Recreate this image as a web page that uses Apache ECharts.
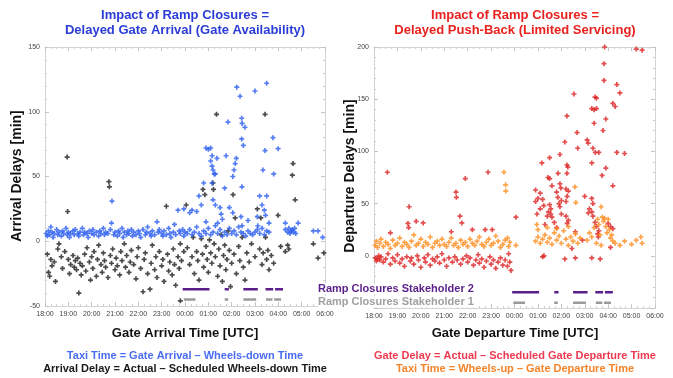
<!DOCTYPE html>
<html lang="en">
<head>
    <meta charset="UTF-8">
    <title>Impact of Ramp Closures</title>
    <script src="https://cdn.jsdelivr.net/npm/echarts@6/dist/echarts.min.js"></script>
    <style>
        body { margin: 0; background: #fff; }
        #chart { width: 673px; height: 378px; }
    </style>
</head>
<body>
    <div id="chart"></div>
    <script>
        // time is in hours from 18:00 UTC (24 = 00:00, 30 = 06:00), values in minutes
        const arrivalDelay = [
            [18.1,-10],[18.15,-24],[18.2,-27],[18.25,-14],[18.3,-19],[18.4,-16],[18.45,-31],[18.55,-6],[18.6,-2],[18.7,-12],
            [18.75,-21],[18.85,-8],[18.95,65],[18.97,23],[19.0,-14],[19.05,-25],[19.1,-18],[19.2,-11],[19.25,-20],[19.3,-15],
            [19.35,-22],[19.4,-13],[19.45,-40],[19.5,-17],[19.55,-26],[19.6,-19],[19.7,-10],[19.75,-23],[19.8,-5],[19.9,-16],
            [19.95,-30],[20.0,-12],[20.05,-21],[20.1,-8],[20.2,-27],[20.25,-14],[20.3,-3],[20.4,-18],[20.45,-24],[20.5,-9],
            [20.55,-15],[20.6,-20],[20.7,-28],[20.74,46],[20.76,42],[20.8,-11],[20.85,-17],[20.9,-6],[21.0,-22],[21.05,-13],
            [21.1,-19],[21.2,-26],[21.25,-8],[21.3,-15],[21.4,-2],[21.45,-20],[21.5,-11],[21.6,-24],[21.65,-16],[21.7,-7],
            [21.8,-18],[21.9,-29],[21.95,-12],[22.0,-5],[22.1,-21],[22.2,-39],[22.25,-14],[22.3,-9],[22.4,-25],[22.5,-37],
            [22.55,-17],[22.6,-3],[22.7,-22],[22.75,-12],[22.8,-28],[22.9,-8],[23.0,-19],[23.05,-14],[23.1,-31],[23.2,27],
            [23.25,-10],[23.3,-23],[23.35,-16],[23.45,-26],[23.5,-6],[23.55,-18],[23.6,-34],[23.7,-12],[23.75,-21],[23.8,-2],
            [23.8,-46],[23.85,-15],[23.95,-8],[24.05,28],
            [24.1,-5],[24.2,-18],[24.3,-12],[24.35,3],[24.4,-25],[24.5,-8],[24.55,-15],[24.6,-30],[24.7,2],[24.77,40],
            [24.75,-10],[24.8,-20],[24.85,36],[24.9,-4],[24.95,-14],[25.0,-24],[25.05,1],[25.1,-9],[25.15,-17],[25.2,45],
            [25.22,40],[25.25,-2],[25.3,-12],[25.35,98],[25.4,-27],[25.45,-6],[25.5,-19],[25.55,5],[25.6,-31],[25.65,-11],
            [25.7,-3],[25.75,-22],[25.8,-14],[25.85,8],[25.9,-7],[25.95,-35],[26.0,-17],[26.06,36],[26.1,-10],[26.15,18],
            [26.2,-25],[26.3,-4],[26.35,-15],[26.45,3],[26.5,-20],[26.57,-30],[26.65,-9],[26.75,-16],[26.85,-2],[27.0,-12],
            [27.1,25],[27.2,-6],[27.25,18],[27.3,-18],[27.35,-9],[27.43,98],[27.45,3],[27.5,-14],[27.55,-7],[27.6,-22],
            [27.7,-11],[27.8,-17],[27.99,20],[28.1,-4],[28.3,-8],[28.4,-3],[28.45,-6],[28.6,51],[28.63,60],[28.72,32],
            [29.5,-2],[29.7,-13],[29.95,-9]
        ];
        const arrivalTaxi = [
            [18.05,6],[18.1,4],[18.15,8],[18.2,5],[18.25,11],[18.3,7],[18.35,3],[18.4,6],[18.5,9],[18.55,5],
            [18.6,7],[18.7,4],[18.75,8],[18.8,6],[18.9,10],[18.95,5],[19.0,7],[19.05,3],[19.1,6],[19.2,8],
            [19.25,5],[19.3,9],[19.4,6],[19.45,4],[19.5,7],[19.6,10],[19.65,5],[19.7,7],[19.8,6],[19.85,3],
            [19.9,8],[20.0,6],[20.05,9],[20.1,5],[20.2,7],[20.3,4],[20.35,8],[20.4,6],[20.5,10],[20.55,5],
            [20.6,7],[20.7,6],[20.8,9],[20.85,14],[20.87,31],[20.95,5],[21.0,7],[21.1,4],[21.15,8],[21.2,6],
            [21.3,10],[21.35,3],[21.4,7],[21.5,5],[21.55,8],[21.6,6],[21.7,9],[21.75,4],[21.8,7],[21.9,5],
            [22.0,8],[22.05,6],[22.1,3],[22.2,9],[22.3,5],[22.35,7],[22.4,11],[22.5,6],[22.55,4],[22.6,8],
            [22.7,5],[22.8,15],[22.85,7],[22.9,9],[23.0,6],[23.05,4],[23.1,8],[23.2,5],[23.3,10],[23.35,6],
            [23.4,3],[23.5,7],[23.55,13],[23.6,5],[23.7,24],[23.75,8],[23.8,6],[23.9,9],[23.95,4],[24.0,7],
            [24.2,22],
            [24.1,6],[24.2,9],[24.3,5],[24.4,7],[24.5,11],[24.6,6],[24.7,4],[24.8,8],[24.9,6],[25.0,10],
            [25.1,5],[25.2,7],[25.3,12],[25.4,6],[25.5,9],[25.6,4],[25.7,7],[25.8,5],[25.9,10],[26.0,6],
            [26.1,8],[26.2,5],[26.3,11],[26.4,7],[26.5,6],[26.6,4],[26.7,8],[26.8,6],[26.9,5],[27.0,7],
            [27.1,9],[27.2,6],[27.3,10],[27.4,5],[27.5,8],[27.6,7],
            [24.6,35],[24.8,45],[24.9,72],[25.0,71],[25.1,72],[25.16,66],[25.1,62],[25.16,58],[25.2,55],[25.25,52],
            [25.3,52],[25.37,64],[25.16,45],[25.2,32],[25.5,26],[25.55,21],[25.7,41],[25.76,66],[25.84,92],[26.05,50],
            [26.1,55],[26.15,60],[26.2,64],[26.22,119],[26.36,112],[26.43,95],[26.45,91],[26.5,74],[26.44,42],[26.43,79],
            [26.57,88],[26.4,19],[26.45,12],[27.0,116],[27.1,19],[27.12,12],[27.2,35],[27.34,55],[27.43,70],[27.5,122],
            [27.5,35],[27.3,28],[27.4,24],[27.45,20],[27.77,80],[27.8,52],[27.99,71.5],[24.3,24],[24.5,23],[23.95,25],
            [24.7,28],[25.3,28],[25.9,26],[26.05,22],[25.6,17],[24.9,15],[25.4,14],[26.7,16],[27.6,14],
            [28.3,14],[28.85,14],[28.3,9],[28.4,7],[28.45,10],[28.5,6],[28.55,8],[28.6,9],[28.65,7],[28.7,10],
            [28.75,6],[29.5,8],[29.7,8],[29.9,3]
        ];
        const gateDelay = [
            [18.05,-2],[18.1,-5],[18.15,-3],[18.2,0],[18.25,-4],[18.3,-1],[18.4,-6],[18.5,-3],[18.57,80],[18.6,2],
            [18.7,22],[18.7,-8],[18.8,-2],[18.9,-5],[19.0,1],[19.1,-7],[19.2,-3],[19.3,-10],[19.4,-1],[19.45,31],
            [19.48,27],[19.5,47],[19.55,-5],[19.6,-2],[19.7,-8],[19.8,33],[19.85,0],[19.9,-4],[20.0,-11],[20.1,31.5],
            [20.15,-2],[20.2,-6],[20.3,1],[20.4,-9],[20.5,-3],[20.6,-5],[20.7,-1],[20.8,-7],[20.9,2],[21.0,-4],
            [21.1,-10],[21.2,-2],[21.3,23],[21.35,-6],[21.45,-1],[21.5,61],[21.52,56],[21.55,-4],[21.67,38],[21.7,-8],
            [21.75,31.5],[21.8,-3],[21.9,74],[21.95,0],[22.0,-6],[22.1,-2],[22.2,25],[22.25,-9],[22.35,-4],[22.45,1],
            [22.5,-7],[22.6,-3],[22.7,-11],[22.75,25],[22.8,-5],[22.87,80],[22.95,-1],[23.0,-8],[23.05,25],[23.1,-4],
            [23.2,-12],[23.3,-6],[23.4,-2],[23.5,-9],[23.6,-4],[23.7,-10],[23.75,2],[23.8,-6],[23.85,-14],[24.06,37],
            [25.2,-1],[25.26,0],[26.15,-3],[26.45,7],[26.6,-2],[27.66,-3],[27.3,-2],[28.1,8],
            [27.85,200],[29.2,198],[29.45,197],[27.82,184],[27.82,168],[28.37,164],[28.5,156],[28.2,146],[28.3,143],[27.44,152],
            [27.5,151],[26.54,155],[27.3,141],[27.4,140],[27.5,141],[26.24,134],[27.4,127],[27.9,131],[27.78,120],[26.67,118],
            [26.15,109],[27.1,111],[27.15,108],[26.7,103],[27.35,103],[27.45,99],[27.6,99],[28.37,99],[28.7,98],[25.17,89],
            [25.94,97],[25.5,94],[26.24,87],[26.28,85],[27.3,89],[27.9,84],[26.24,79],[25.86,79],[27.74,77],[25.43,75],
            [25.5,74],[28.2,67],[25.94,69],[25.98,65],[25.6,67],
            [24.9,63],[25.1,60],[25.0,55],[25.2,54],[24.9,52],[25.25,48],[25.1,45],[26.2,64],[26.3,62],[26.25,57],
            [26.2,52],[25.8,61],[25.85,56],[25.9,50],[26.0,53],[27.0,57],[27.3,55],[27.35,50],[27.2,45],[27.15,41],
            [27.3,42],[27.35,38],[25.5,49],[25.55,45],[25.45,42],[25.4,38],[25.6,37],[25.55,40],[25.94,47],[26.0,40],
            [26.2,38],[26.3,34],[26.25,31],[24.96,40],[25.3,30],[25.8,27],[27.44,32],[27.5,28],[27.6,24],[27.55,21],
            [27.58,18],[28.0,31],[28.1,28],[28.2,26],[25.7,32],[26.6,23],[26.9,15]
        ];
        const departureTaxi = [
            [18.05,10],[18.1,14],[18.15,8],[18.25,12],[18.3,16],[18.4,9],[18.5,13],[18.6,11],[18.7,7],[18.8,15],
            [18.9,10],[19.0,12],[19.1,17],[19.2,9],[19.3,13],[19.4,11],[19.5,8],[19.6,14],[19.7,20],[19.8,10],
            [19.9,12],[20.0,16],[20.1,9],[20.2,13],[20.3,11],[20.4,18],[20.5,8],[20.6,12],[20.7,14],[20.8,10],
            [20.9,16],[21.0,11],[21.1,9],[21.2,13],[21.3,17],[21.4,10],[21.5,12],[21.6,8],[21.7,15],[21.8,11],
            [21.9,13],[22.0,9],[22.1,16],[22.2,12],[22.3,10],[22.4,14],[22.5,18],[22.6,11],[22.7,9],[22.8,13],
            [22.9,16],[23.0,10],[23.1,12],[23.2,19],[23.3,14],[23.4,8],[23.5,11],[23.55,80],[23.62,68],[23.63,62],
            [23.6,15],[23.7,17],[23.75,9],[23.8,13],[24.06,10],
            [24.9,14],[25.0,18],[25.1,12],[25.2,16],[25.3,20],[25.4,13],[25.5,17],[25.6,11],[25.7,22],[25.8,15],
            [25.9,19],[26.0,12],[26.1,24],[26.2,16],[26.3,10],[26.4,18],[26.5,14],[26.6,21],[26.7,12],[26.8,17],
            [26.58,66],[26.62,51],[25.0,25],[25.4,27],[25.8,26],[26.3,28],[27.1,15],[27.2,22],[27.3,18],[27.4,27],
            [27.5,12],[27.55,35],[27.6,30],[27.7,47],[27.75,37],[27.8,33],[27.85,36],[27.9,28],[27.95,22],[28.0,35],
            [28.05,25],[28.1,17],[28.15,20],[28.2,14],[27.65,20],[27.7,10],[28.3,12],[28.5,10],[28.7,14],[29.0,11],
            [29.2,15],[29.4,18],[29.45,12],[24.95,30]
        ];
        // ramp closure periods [start, end] in hours
        const closuresStakeholder2 = [[23.9,25.05],[25.7,25.88],[26.5,27.12],[27.45,27.78],[27.86,28.2]];
        const closuresStakeholder1 = [[23.95,24.45],[25.7,25.85],[26.5,27.05],[27.47,27.75],[27.82,28.12]];

        const plus = 'path://M2,0L4,0L4,2L6,2L6,4L4,4L4,6L2,6L2,4L0,4L0,2L2,2Z';
        const font = '"Liberation Sans", Arial, sans-serif';

        function segments(list, level) {
            const out = [];
            list.forEach(([a, b]) => { out.push([a, level], [b, level], [b, '-']); });
            return out;
        }

        function hourLabel(v) {
            return String(v % 24).padStart(2, '0') + ':00';
        }

        function xAxis(gridIndex, position) {
            return {
                type: 'value', gridIndex, position, min: 18, max: 30, interval: 1,
                axisLine: { show: true, onZero: false, lineStyle: { color: '#d4d4d4' } },
                axisTick: { show: true, inside: true, length: 4, lineStyle: { color: '#c4c4c4' } },
                minorTick: { show: true, splitNumber: 4, length: 2, lineStyle: { color: '#cfcfcf' } },
                splitLine: { show: false },
                axisLabel: { show: position === 'bottom', fontSize: 7, color: '#444', margin: 5, fontFamily: font, formatter: hourLabel }
            };
        }

        function yAxis(gridIndex, position, max) {
            return {
                type: 'value', gridIndex, position, min: -50, max, interval: 50,
                axisLine: { show: true, onZero: false, lineStyle: { color: '#d4d4d4' } },
                axisTick: { show: true, inside: true, length: 4, lineStyle: { color: '#c4c4c4' } },
                minorTick: { show: true, splitNumber: 5, length: 2, lineStyle: { color: '#cfcfcf' } },
                splitLine: { show: false },
                axisLabel: {
                    show: position === 'left', fontSize: 7, color: '#444', margin: 5, fontFamily: font,
                    formatter: v => (gridIndex === 1 && v === -50) ? '' : v
                }
            };
        }

        function scatter(data, xi, yi, color) {
            return { type: 'scatter', xAxisIndex: xi, yAxisIndex: yi, data, symbol: plus, symbolSize: 5, itemStyle: { color }, silent: true };
        }

        function closureLine(list, level, xi, yi, color) {
            return {
                type: 'line', xAxisIndex: xi, yAxisIndex: yi, data: segments(list, level), showSymbol: false,
                connectNulls: false, lineStyle: { color, width: 2.5 }, silent: true
            };
        }

        function text(x, y, str, size, color, weight, extra) {
            return Object.assign({
                type: 'text', x, y,
                style: { text: str, fill: color, font: `${weight} ${size}px ${font}`, textAlign: 'center', textVerticalAlign: 'middle' }
            }, extra || {});
        }

        const chart = echarts.init(document.getElementById('chart'));
        chart.setOption({
            animation: false,
            grid: [
                { left: 45, right: 348, top: 47, bottom: 72 },
                { left: 374, right: 18, top: 47, bottom: 70 }
            ],
            xAxis: [xAxis(0, 'bottom'), xAxis(1, 'bottom'), xAxis(0, 'top'), xAxis(1, 'top')],
            yAxis: [yAxis(0, 'left', 150), yAxis(1, 'left', 200), yAxis(0, 'right', 150), yAxis(1, 'right', 200)],
            series: [
                scatter(arrivalDelay, 0, 0, '#1e1e1e'),
                scatter(arrivalTaxi, 0, 0, '#2a5cf0'),
                scatter(gateDelay, 1, 1, '#dc2020'),
                scatter(departureTaxi, 1, 1, '#ff8c1e'),
                closureLine(closuresStakeholder2, -37, 0, 0, '#5a1f8a'),
                closureLine(closuresStakeholder1, -45, 0, 0, '#9a9a9a'),
                closureLine(closuresStakeholder2, -35, 1, 1, '#5a1f8a'),
                closureLine(closuresStakeholder1, -45, 1, 1, '#9a9a9a')
            ],
            graphic: [
                text(185, 15, 'Impact of Ramp Closures =', 13, '#2b3dd6', 'bold'),
                text(185, 30, 'Delayed Gate Arrival (Gate Availability)', 13, '#2b3dd6', 'bold'),
                text(515, 15, 'Impact of Ramp Closures =', 13, '#e8221e', 'bold'),
                text(515, 30, 'Delayed Push-Back (Limited Servicing)', 13, '#e8221e', 'bold'),
                text(17, 176, 'Arrival Delays [min]', 14, '#111', 'bold', { rotation: Math.PI / 2 }),
                text(350, 176, 'Departure Delays [min]', 14, '#111', 'bold', { rotation: Math.PI / 2 }),
                text(185, 333, 'Gate Arrival Time [UTC]', 13, '#111', 'bold'),
                text(515, 333, 'Gate Departure Time [UTC]', 13, '#111', 'bold'),
                text(185, 356, 'Taxi Time = Gate Arrival \u2013 Wheels-down Time', 11, '#4a6cf2', 'bold'),
                text(185, 369, 'Arrival Delay = Actual \u2013 Scheduled Wheels-down Time', 11, '#1a1a1a', 'bold'),
                text(515, 356, 'Gate Delay = Actual \u2013 Scheduled Gate Departure Time', 11, '#ee3a50', 'bold'),
                text(515, 369, 'Taxi Time = Wheels-up \u2013 Gate Departure Time', 11, '#f5842a', 'bold'),
                {
                    type: 'text', x: 318, y: 289, z: 100,
                    style: { text: 'Ramp Closures Stakeholder 2', fill: '#5a1f8a', font: `bold 11px ${font}`, textVerticalAlign: 'middle', backgroundColor: '#fff' }
                },
                {
                    type: 'text', x: 318, y: 302, z: 100,
                    style: { text: 'Ramp Closures Stakeholder 1', fill: '#a0a0a0', font: `bold 11px ${font}`, textVerticalAlign: 'middle', backgroundColor: '#fff' }
                }
            ]
        });
    </script>
</body>
</html>
